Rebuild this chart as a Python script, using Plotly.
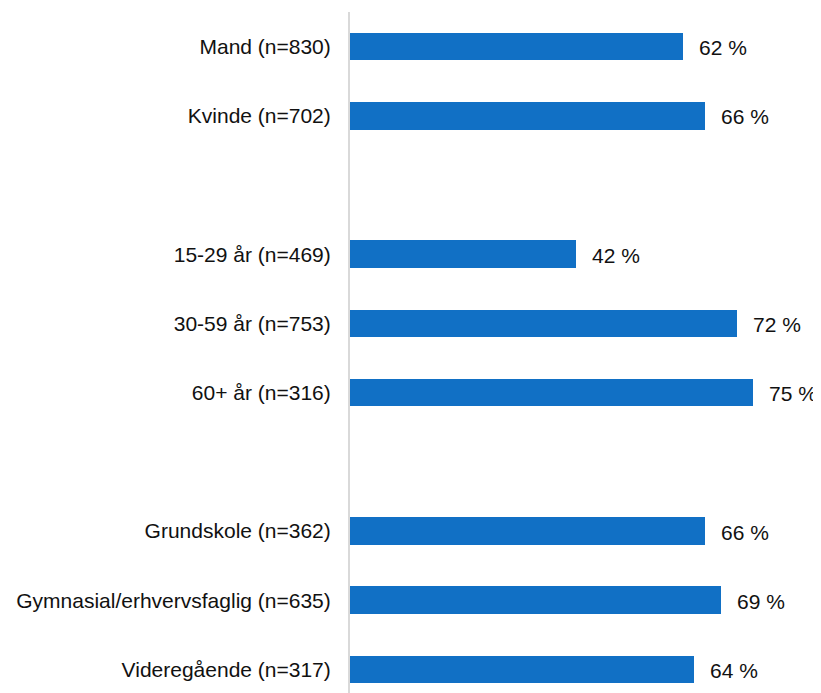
import plotly.graph_objects as go

# rows top to bottom, None = empty spacer row between groups
categories = ["Mand (n=830)", "Kvinde (n=702)", None,
              "15-29 år (n=469)", "30-59 år (n=753)", "60+ år (n=316)", None,
              "Grundskole (n=362)", "Gymnasial/erhvervsfaglig (n=635)", "Videregående (n=317)"]
values = [62, 66, None, 42, 72, 75, None, 66, 69, 64]
value_labels = ["62 %", "66 %", None, "42 %", "72 %", "75 %", None, "66 %", "69 %", "64 %"]

pos = [i for i, c in enumerate(categories) if c is not None]
cats = [categories[i] for i in pos]
vals = [values[i] for i in pos]
labs = [value_labels[i] for i in pos]

fig = go.Figure()
fig.add_trace(go.Bar(
    x=vals, y=pos, orientation="h",
    marker=dict(color="#1170c5", line=dict(width=0)),
    width=0.4,
    hoverinfo="skip",
))

for p, v, t in zip(pos, vals, labs):
    fig.add_annotation(x=v, y=p, text=t, showarrow=False,
                       xanchor="left", xshift=14, yshift=-1,
                       font=dict(size=21, color="#111111"))

fig.update_layout(
    width=821, height=693,
    margin=dict(l=342, r=8, t=4, b=8),
    plot_bgcolor="white", paper_bgcolor="white",
    font=dict(family="Liberation Sans, Arial, sans-serif", size=21, color="#111111"),
    showlegend=False,
    bargap=0,
)
fig.update_xaxes(range=[0, 87.6], visible=False, fixedrange=True)
fig.update_yaxes(
    range=[9.34, -0.5],
    tickvals=pos, ticktext=cats,
    showgrid=False, zeroline=False,
    showline=True, linecolor="#d9d9d9", linewidth=2,
    ticks="", ticklabelstandoff=13,
    fixedrange=True,
)

fig.write_html("out.html")
